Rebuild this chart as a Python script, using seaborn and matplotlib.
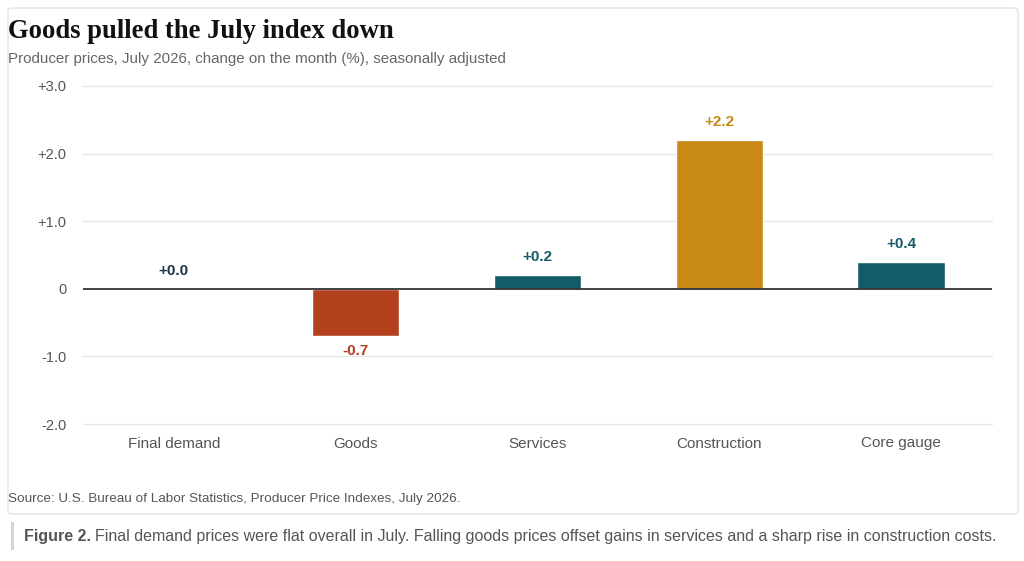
import matplotlib
matplotlib.use("Agg")
import matplotlib.pyplot as plt
from matplotlib.patches import FancyBboxPatch, Rectangle
import seaborn as sns
import pandas as pd

# data
categories = ["Final demand", "Goods", "Services", "Construction", "Core gauge"]
changes = [0.0, -0.7, 0.2, 2.2, 0.4]
bar_colors = ["#135B68", "#B3411E", "#135B68", "#C88915", "#135B68"]
label_colors = ["#1E3442", "#B3411E", "#135B68", "#C88915", "#135B68"]
y_ticks = [3.0, 2.0, 1.0, 0.0, -1.0, -2.0]
y_tick_labels = ["+3.0", "+2.0", "+1.0", "0", "-1.0", "-2.0"]

df = pd.DataFrame({"category": categories, "change": changes})

sns.set_theme(style="white")
plt.rcParams["font.family"] = ["Liberation Sans", "DejaVu Sans"]

fig = plt.figure(figsize=(10.24, 5.61), dpi=100)
W, H = 1024, 561

# card background
card = FancyBboxPatch((8 / W, 1 - 514 / H), 1010 / W, 506 / H,
                      boxstyle="round,pad=0,rounding_size=0.004",
                      transform=fig.transFigure, facecolor="white",
                      edgecolor="#E4E4E4", linewidth=1.0, zorder=-2)
fig.patches.append(card)

ax = fig.add_axes([83 / W, 1 - 424 / H, (992 - 83) / W, (424 - 86) / H])
ax.set_facecolor("none")
ax.set_zorder(1)

sns.barplot(data=df, x="category", y="change", hue="category",
            palette=bar_colors, legend=False, width=0.48, saturation=1,
            ax=ax, zorder=3)

ax.set_xlim(-0.5, len(categories) - 0.5)
ax.set_ylim(-2.0, 3.0)
ax.set_yticks(y_ticks)
ax.set_yticklabels(y_tick_labels)
ax.set_xlabel("")
ax.set_ylabel("")
ax.tick_params(axis="y", length=0, pad=12, labelsize=10.5, labelcolor="#555555")
ax.tick_params(axis="x", length=0, pad=9, labelsize=11, labelcolor="#555555")

for t in y_ticks:
    if t != 0:
        ax.axhline(t, color="#E6E6E6", linewidth=1.0, zorder=1, clip_on=False)
ax.axhline(0, color="#333333", linewidth=1.3, zorder=4)
for s in ax.spines.values():
    s.set_visible(False)

# value labels
for i, (v, c) in enumerate(zip(changes, label_colors)):
    txt = f"+{v:.1f}" if v >= 0 else f"{v:.1f}"
    if v >= 0:
        ax.annotate(txt, (i, v), xytext=(0, 8), textcoords="offset points",
                    ha="center", va="bottom", fontsize=11, fontweight="bold",
                    color=c, zorder=5)
    else:
        ax.annotate(txt, (i, v), xytext=(0, -6), textcoords="offset points",
                    ha="center", va="top", fontsize=11, fontweight="bold",
                    color=c, zorder=5)

# titles
fig.text(8 / W, 1 - 32 / H, "Goods pulled the July index down",
         family=["Liberation Serif", "DejaVu Serif"], fontweight="bold",
         fontsize=19.2, color="#111111", va="center", ha="left")
fig.text(8 / W, 1 - 59 / H,
         "Producer prices, July 2026, change on the month (%), seasonally adjusted",
         fontsize=10.9, color="#666666", va="center", ha="left")
fig.text(8 / W, 1 - 499 / H,
         "Source: U.S. Bureau of Labor Statistics, Producer Price Indexes, July 2026.",
         fontsize=9.7, color="#555555", va="center", ha="left")

# caption with left rule
fig.patches.append(Rectangle((11 / W, 1 - 550 / H), 2.5 / W, 28 / H,
                             transform=fig.transFigure, facecolor="#D5D5D5",
                             edgecolor="none", zorder=-1))
cap1 = fig.text(24 / W, 1 - 537 / H, "Figure 2.", fontsize=11.5,
                fontweight="bold", color="#555555", va="center", ha="left")
fig.canvas.draw()
bb = cap1.get_window_extent()
fig.text((bb.x1 + 4) / W, 1 - 537 / H,
         "Final demand prices were flat overall in July. Falling goods prices "
         "offset gains in services and a sharp rise in construction costs.",
         fontsize=11.5, color="#555555", va="center", ha="left")

fig.savefig("out.png", dpi=100)
plt.close(fig)
